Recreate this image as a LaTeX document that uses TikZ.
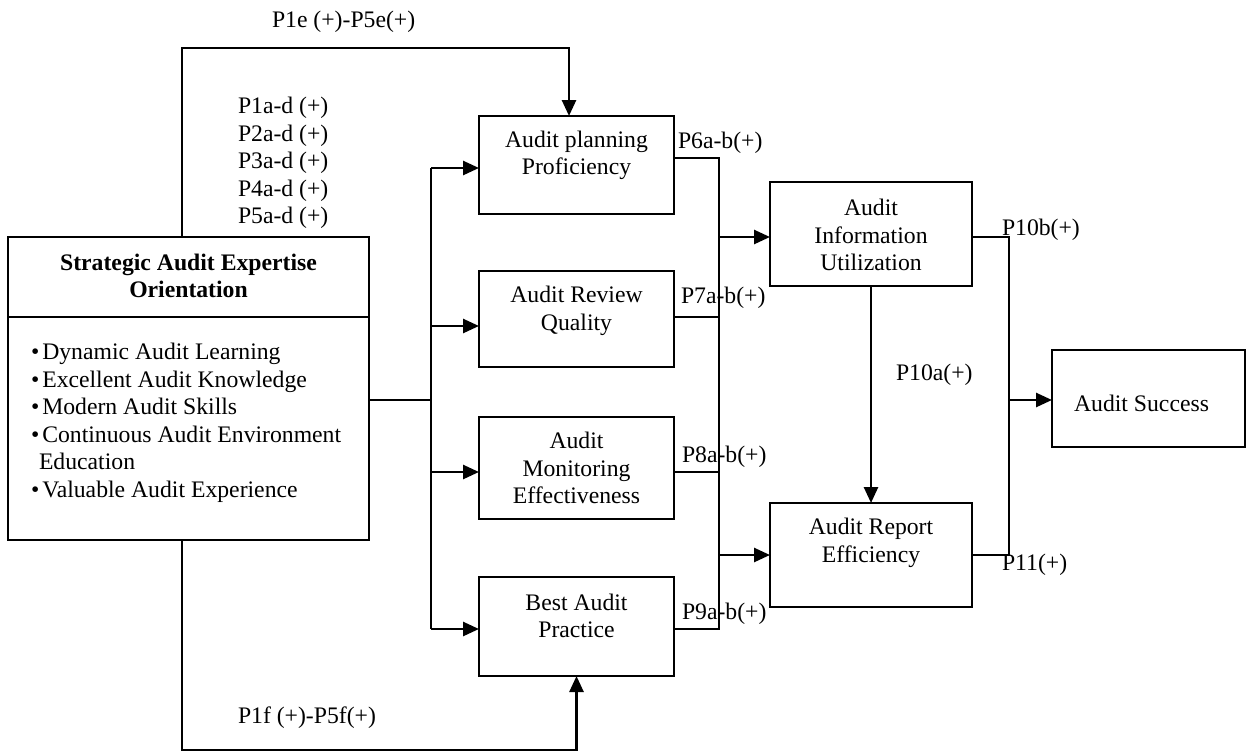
\documentclass[tikz,border=0pt]{standalone}
\usepackage{fontspec}
\setmainfont{Liberation Serif}
\usetikzlibrary{arrows.meta}
\begin{document}
\begin{tikzpicture}[x=1pt,y=-1pt,
  every node/.style={font=\fontsize{23.7}{27.5}\selectfont, inner sep=0pt, outer sep=0pt},
  box/.style 2 args={draw, line width=2pt, minimum width=#1, minimum height=#2},
  txt/.style={align=center},
  lbl/.style={anchor=west},
  conn/.style={line width=2pt},
  arr/.style={line width=2.6pt, -{Triangle[length=16pt,width=14pt]}}]
\useasboundingbox (0,0) rectangle (1247,752);

% Boxes
\node[box={361pt}{303pt}] (main) at (188.5,388.5) {};
\draw[line width=2pt] ([yshift=-80pt]main.north west) -- ([yshift=-80pt]main.north east);
\node[txt, font=\fontsize{23.7}{27.5}\selectfont\bfseries] (mainT) at (188.5,276) {Strategic Audit Expertise\\Orientation};
\node[anchor=west, align=left] (mainL) at (31,423) {%
  •\hspace{3pt}Dynamic Audit Learning\\
  •\hspace{3pt}Excellent Audit Knowledge\\
  •\hspace{3pt}Modern Audit Skills\\
  •\hspace{3pt}Continuous Audit Environment\\
  \hspace{8pt}Education\\
  •\hspace{3pt}Valuable Audit Experience};

\node[box={195pt}{98pt}] (plan) at (576.5,165) {};
\node[txt] (planT) at (576.5,155.5) {Audit planning\\Proficiency};
\node[box={195pt}{96pt}] (review) at (576.5,319) {};
\node[txt] (reviewT) at (576.5,311) {Audit Review\\Quality};
\node[box={195pt}{102pt}] (monitor) at (576.5,468) {};
\node[txt] (monitorT) at (576.5,468) {Audit\\Monitoring\\Effectiveness};
\node[box={195pt}{99pt}] (best) at (576.5,626.5) {};
\node[txt] (bestT) at (576.5,616) {Best Audit\\Practice};

\node[box={202pt}{104pt}] (aiu) at (871,234) {};
\node[txt] (aiuT) at (871,235) {Audit\\Information\\Utilization};
\node[box={202pt}{104pt}] (are) at (871,555) {};
\node[txt] (areT) at (871,543) {Audit Report\\Efficiency};

\node[box={193pt}{97pt}] (success) at (1148.5,398.5) {};
\node[txt] (successT) at (1141.5,403) {Audit Success};

% Connector end points on the boxes
\path ([yshift=-11.5pt]main.east) coordinate (mainOut)
      ([yshift=-3pt]plan.west) coordinate (planIn)
      ([yshift=7pt]plan.east) coordinate (planOut)
      ([yshift=-7pt]review.west) coordinate (revIn)
      ([yshift=2pt]review.east) coordinate (revOut)
      ([yshift=-4pt]monitor.west) coordinate (monIn)
      ([yshift=-4pt]monitor.east) coordinate (monOut)
      ([yshift=-2.5pt]best.west) coordinate (bestIn)
      ([yshift=-2.5pt]best.east) coordinate (bestOut)
      ([yshift=-3pt]aiu.west) coordinate (aiuIn)
      ([yshift=-3pt]aiu.east) coordinate (aiuOut)
      (are.west) coordinate (areIn)
      (are.east) coordinate (areOut)
      ([yshift=-1.5pt]success.west) coordinate (sucIn);

% Junction lines
\coordinate (jl) at (431,400);
\coordinate (jr) at (719,400);
\coordinate (js) at (1009,400);
\coordinate (tl) at (182,48);
\coordinate (tr) at (569,48);
\coordinate (bl) at (182,750);

% Strategic orientation to the four practices
\draw[conn] (mainOut) -- (mainOut -| jl);
\draw[conn] (planIn -| jl) -- (bestIn -| jl);
\draw[arr] (planIn -| jl) -- (planIn);
\draw[arr] (revIn -| jl) -- (revIn);
\draw[arr] (monIn -| jl) -- (monIn);
\draw[arr] (bestIn -| jl) -- (bestIn);

% Practices to information utilization and report efficiency
\draw[conn] (planOut) -- (planOut -| jr) -- (bestOut -| jr) -- (bestOut);
\draw[conn] (revOut) -- (revOut -| jr);
\draw[conn] (monOut) -- (monOut -| jr);
\draw[arr] (aiuIn -| jr) -- (aiuIn);
\draw[arr] (areIn -| jr) -- (areIn);

% Utilization to report efficiency
\draw[arr] (aiu.south) -- (are.north);

% Outcomes to audit success
\draw[conn] (aiuOut) -- (aiuOut -| js) -- (areOut -| js) -- (areOut);
\draw[arr] (sucIn -| js) -- (sucIn);

% Direct paths over the top and under the bottom
\draw[arr] (main.north -| tl) -- (tl) -- (tr) -- (tr |- plan.north);
\draw[arr] (main.south -| bl) -- (bl) -- (best.south |- bl) -- (best.south);

% Hypothesis labels
\node[lbl] (l1e) at (272,22) {P1e (+)-P5e(+)};
\node[lbl, align=left] (l1a) at (238,163) {P1a-d (+)\\P2a-d (+)\\P3a-d (+)\\P4a-d (+)\\P5a-d (+)};
\node[lbl] (l6) at (678,143) {P6a-b(+)};
\node[lbl] (l7) at (681,298) {P7a-b(+)};
\node[lbl] (l8) at (682,457) {P8a-b(+)};
\node[lbl] (l9) at (682,614) {P9a-b(+)};
\node[lbl] (l10b) at (1002,230) {P10b(+)};
\node[lbl] (l10a) at (896,375) {P10a(+)};
\node[lbl] (l11) at (1002,565) {P11(+)};
\node[lbl] (l1f) at (238,718) {P1f (+)-P5f(+)};
\end{tikzpicture}
\end{document}
